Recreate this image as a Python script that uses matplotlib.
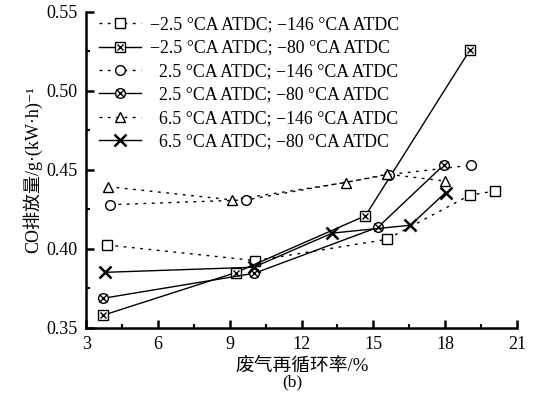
import numpy as np
import matplotlib
matplotlib.use("Agg")
import matplotlib.pyplot as plt
from matplotlib.ticker import MultipleLocator

plt.rcParams['font.family'] = ['Liberation Serif', 'DejaVu Serif', 'Noto Sans CJK SC']
plt.rcParams['font.size'] = 12

# EGR rate (%) and CO emission, g/(kW h)
x_sq = [3.87, 10.07, 15.55, 19.03, 20.1]
y_sq = [0.4025, 0.3926, 0.406, 0.434, 0.4367]

x_sqx = [3.7, 9.25, 14.67, 19.04]
y_sqx = [0.358, 0.385, 0.421, 0.526]

x_ci = [4.0, 9.68, 15.65, 19.1]
y_ci = [0.428, 0.431, 0.447, 0.453]

x_cix = [3.72, 10.03, 15.19, 17.95]
y_cix = [0.3688, 0.3846, 0.4137, 0.4532]

x_tr = [3.92, 9.1, 13.84, 15.58, 17.98]
y_tr = [0.4394, 0.431, 0.442, 0.4473, 0.443]

x_st = [3.8, 10.0, 13.28, 16.55, 18.02]
y_st = [0.3852, 0.3884, 0.410, 0.415, 0.4357]

labels = [
    "\u22122.5 \u00b0CA ATDC; \u2212146 \u00b0CA ATDC",
    "\u22122.5 \u00b0CA ATDC; \u221280 \u00b0CA ATDC",
    "  2.5 \u00b0CA ATDC; \u2212146 \u00b0CA ATDC",
    "  2.5 \u00b0CA ATDC; \u221280 \u00b0CA ATDC",
    "  6.5 \u00b0CA ATDC; \u2212146 \u00b0CA ATDC",
    "  6.5 \u00b0CA ATDC; \u221280 \u00b0CA ATDC",
]

fig = plt.figure(figsize=(5.39, 3.97), dpi=100)
ax = fig.add_axes([0.16, 0.174, 0.799, 0.796])

dot = (0, (2, 4))
ms = 7
kw = dict(color='k', lw=1.0, mfc='white', mec='k', ms=ms, mew=1.0)

h1, = ax.plot(x_sq, y_sq, ls=dot, marker='s', **kw)
h2, = ax.plot(x_sqx, y_sqx, ls='-', marker='s', **kw)
h2x, = ax.plot(x_sqx, y_sqx, ls='none', marker='x', color='k', ms=5, mew=1.0)
h3, = ax.plot(x_ci, y_ci, ls=dot, marker='o', **kw)
h4, = ax.plot(x_cix, y_cix, ls='-', marker='o', **kw)
h4x, = ax.plot(x_cix, y_cix, ls='none', marker='x', color='k', ms=6, mew=1.0)
h5, = ax.plot(x_tr, y_tr, ls=dot, marker='^', **kw)
h6, = ax.plot(x_st, y_st, ls='-', marker='x', color='k', lw=1.0, ms=8, mew=1.8)

ax.set_xlim(3, 21)
ax.set_ylim(0.35, 0.55)
ax.xaxis.set_major_locator(MultipleLocator(3))
ax.xaxis.set_minor_locator(MultipleLocator(1.5))
ax.yaxis.set_major_locator(MultipleLocator(0.05))
ax.yaxis.set_minor_locator(MultipleLocator(0.025))
ax.yaxis.set_major_formatter(matplotlib.ticker.FormatStrFormatter('%.2f'))
ax.tick_params(which='both', direction='in', labelsize=13, pad=6)
ax.tick_params(which='major', length=6, width=1.8)
ax.tick_params(which='minor', length=3, width=1.5)
for s in ['top', 'right']:
    ax.spines[s].set_visible(False)
for s in ['left', 'bottom']:
    ax.spines[s].set_linewidth(1.8)

ax.legend([h1, (h2, h2x), h3, (h4, h4x), h5, h6], labels,
          loc='upper left', bbox_to_anchor=(0.0, 1.025), frameon=False,
          fontsize=12.8, numpoints=1, handlelength=2.4,
          labelspacing=0.36, handletextpad=0.5, borderaxespad=0.3)

ax.set_ylabel("CO\u6392\u653e\u91cf/g\u00b7(kW\u00b7h)\u207b\u00b9", fontsize=13, labelpad=3)
ax.set_xlabel("\u5e9f\u6c14\u518d\u5faa\u73af\u7387/%", fontsize=13.5, labelpad=3)
fig.text(0.542, 0.038, "(b)", ha='center', va='center', fontsize=12.5)

fig.savefig("out.png", dpi=100)
